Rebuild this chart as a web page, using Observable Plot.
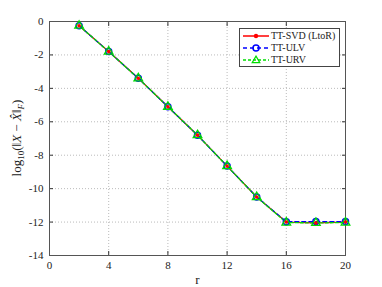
<!DOCTYPE html>
<html><head><meta charset="utf-8">
<script src="https://cdn.jsdelivr.net/npm/d3@7"></script>
<script src="https://cdn.jsdelivr.net/npm/@observablehq/plot@0.6"></script>
<style>
body{margin:0;background:#fff;}
#wrap{position:relative;width:382px;height:287px;font-family:"Liberation Serif","Times New Roman",serif;}
#wrap > svg{position:absolute;left:0;top:0;z-index:1;}
#legend{position:absolute;z-index:2;left:239px;top:28px;width:101px;height:39px;border:1px solid #444;background:#fff;font-size:10px;line-height:12px;padding-top:1px;box-sizing:border-box;color:#222;white-space:nowrap;overflow:visible;}
#legend div{display:flex;align-items:center;height:12px;}
#legend svg{width:28px;height:10px;margin-left:2px;margin-right:1px;flex:none;}
</style></head>
<body><div id="wrap"><div id="legend"></div></div>
<script>
const r = [2,4,6,8,10,12,14,16,18,20];
const svdVals = [-0.25,-1.8,-3.4,-5.1,-6.8,-8.65,-10.5,-12.0,-12.05,-12.0];
const ulvVals = [-0.25,-1.8,-3.4,-5.1,-6.8,-8.65,-10.5,-11.98,-11.97,-11.97];
const urvVals = [-0.25,-1.8,-3.4,-5.1,-6.8,-8.65,-10.5,-12.03,-12.05,-12.03];
const seriesNames = ["TT-SVD (LtoR)","TT-ULV","TT-URV"];
const xTicks = [0,4,8,12,16,20];
const yTicks = [0,-2,-4,-6,-8,-10,-12,-14];

const mk = vals => r.map((x,i)=>({r:x, v:vals[i]}));
const svd = mk(svdVals), ulv = mk(ulvVals), urv = mk(urvVals);
const FF = "Liberation Serif, Times New Roman, serif";

const plot = Plot.plot({
  width: 382, height: 287,
  marginLeft: 49, marginRight: 37, marginTop: 21, marginBottom: 32,
  style: {fontFamily: FF, fontSize: "11px", background: "#fff", color: "#222"},
  x: {domain: [0,20], ticks: xTicks, label: null},
  y: {domain: [-14,0], ticks: yTicks, label: null},
  marks: [
    Plot.gridX(xTicks, {stroke: "#bbb", strokeOpacity: 1, strokeDasharray: "1,2"}),
    Plot.gridY(yTicks, {stroke: "#bbb", strokeOpacity: 1, strokeDasharray: "1,2"}),
    Plot.axisX(xTicks, {anchor: "bottom", tickSize: -4, tickPadding: 10, stroke: "#333", fontSize: 11, fontFamily: FF}),
    Plot.axisX(xTicks, {anchor: "top", tickSize: -4, text: null, stroke: "#333"}),
    Plot.axisY(yTicks, {anchor: "left", tickSize: -4, tickPadding: 10, stroke: "#333", fontSize: 11, fontFamily: FF, tickFormat: d => d < 0 ? "-" + (-d) : String(d)}),
    Plot.axisY(yTicks, {anchor: "right", tickSize: -4, text: null, stroke: "#333"}),
    Plot.frame({stroke: "#555", strokeWidth: 1}),
    Plot.line(svd, {x: "r", y: "v", stroke: "#ff0000", strokeWidth: 1.3}),
    Plot.line(ulv, {x: "r", y: "v", stroke: "#0000ff", strokeWidth: 1.3, strokeDasharray: "4,3"}),
    Plot.line(urv, {x: "r", y: "v", stroke: "#00dd00", strokeWidth: 1.3, strokeDasharray: "3,2"}),
    Plot.dot(ulv, {x: "r", y: "v", r: 3, stroke: "#0000ff", strokeWidth: 1.5, fill: "none"}),
    Plot.dot(urv, {x: "r", y: "v", r: 3.2, symbol: "triangle", stroke: "#00dd00", strokeWidth: 1.3, fill: "none"}),
    Plot.dot(svd, {x: "r", y: "v", r: 1.8, fill: "#ff0000", stroke: "none"}),
    Plot.text(["r"], {frameAnchor: "bottom", dy: 28, fontSize: 13, fill: "#222", fontFamily: FF})
  ]
});
document.getElementById("wrap").insertBefore(plot, document.getElementById("legend"));

// Y axis label with subscripts
const svg = d3.select(plot);
const lab = svg.append("text")
  .attr("transform", "translate(21,138) rotate(-90)")
  .attr("text-anchor", "middle")
  .attr("font-family", FF)
  .attr("font-size", 13)
  .attr("fill", "#222");
lab.append("tspan").text("log");
lab.append("tspan").attr("font-size", 9).attr("dy", 3).text("10");
lab.append("tspan").attr("dy", -3).text("(‖");
lab.append("tspan").attr("font-style", "italic").text("X");
lab.append("tspan").text(" − ");
lab.append("tspan").attr("font-style", "italic").text("X̂");
lab.append("tspan").text("‖");
lab.append("tspan").attr("font-size", 9).attr("dy", 3).attr("font-style", "italic").text("F");
lab.append("tspan").attr("dy", -3).text(")");

// Legend
const leg = d3.select("#legend");
const styles = [
  {stroke: "#ff0000", dash: null, sym: "dot"},
  {stroke: "#0000ff", dash: "4,3", sym: "circle"},
  {stroke: "#00dd00", dash: "3,2", sym: "triangle"}
];
seriesNames.forEach((name, i) => {
  const row = leg.append("div");
  const s = row.append("svg");
  const st = styles[i];
  s.append("line").attr("x1", 1).attr("x2", 27).attr("y1", 5).attr("y2", 5)
    .attr("stroke", st.stroke).attr("stroke-width", 1.5).attr("stroke-dasharray", st.dash);
  if (st.sym === "dot") s.append("circle").attr("cx", 14).attr("cy", 5).attr("r", 2.2).attr("fill", st.stroke);
  if (st.sym === "circle") s.append("circle").attr("cx", 14).attr("cy", 5).attr("r", 3).attr("fill", "none").attr("stroke", st.stroke).attr("stroke-width", 1.5);
  if (st.sym === "triangle") s.append("path").attr("d", d3.symbol(d3.symbolTriangle, 25)()).attr("transform", "translate(14,5.5)").attr("fill", "none").attr("stroke", st.stroke).attr("stroke-width", 1.2);
  row.append("span").text(name);
});
</script></body></html>
